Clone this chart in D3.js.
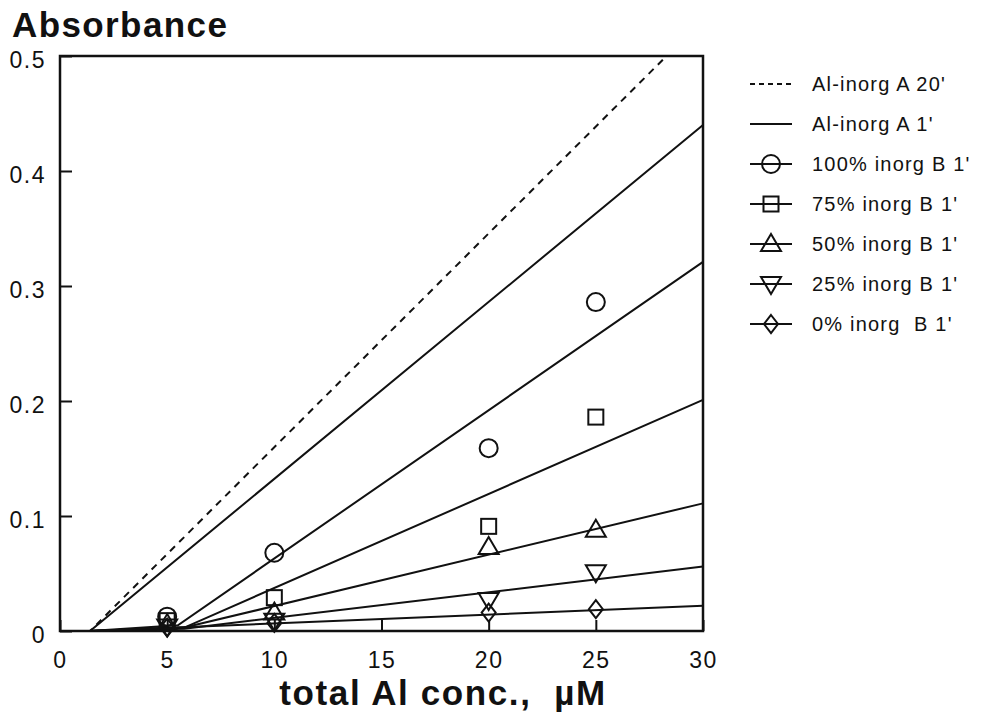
<!DOCTYPE html>
<html>
<head>
<meta charset="utf-8">
<script src="https://cdn.jsdelivr.net/npm/d3@7"></script>
<style>
  body { margin: 0; background: #fff; }
  text { font-family: "Liberation Sans", Arial, sans-serif; fill: #111; white-space: pre; }
</style>
</head>
<body>
<svg></svg>
<script>
const width = 984;
const height = 720;
const svg = d3.select("svg").attr("width", width).attr("height", height);

// data
const xTicks = [0, 5, 10, 15, 20, 25, 30];
const yTicks = [0, 0.1, 0.2, 0.3, 0.4, 0.5];
const concs = [5, 10, 20, 25];

const labels = ["Al-inorg A 20'", "Al-inorg A 1'", "100% inorg B 1'", "75% inorg B 1'",
  "50% inorg B 1'", "25% inorg B 1'", "0% inorg  B 1'"];
const symbols = ["dash", "line", "circle", "square", "triangle", "triangleDown", "diamond"];

const b100 = [0.0125, 0.068, 0.159, 0.286];
const b75 = [0.009, 0.029, 0.091, 0.186];
const b50 = [0.006, 0.016, 0.073, 0.088];
const b25 = [0.004, 0.009, 0.027, 0.051];
const b0 = [0.003, 0.007, 0.016, 0.019];

// fitted lines (x, absorbance)
const fitA20 = [[0, 0], [1.4, 0], [28.3, 0.5]];
const fitA1 = [[0, 0], [1.4, 0], [30, 0.44]];
const fit100 = [[1.4, 0], [5.5, 0.005], [30, 0.321]];
const fit75 = [[1.4, 0], [5.8, 0.003], [30, 0.201]];
const fit50 = [[1.4, 0], [5.8, 0.003], [30, 0.111]];
const fit25 = [[1.4, 0], [5.8, 0.002], [30, 0.056]];
const fit0 = [[1.4, 0], [30, 0.022]];

const x = d3.scaleLinear().domain([0, 30]).range([60, 703]);
const y = d3.scaleLinear().domain([0, 0.5]).range([631, 56]);

const line = d3.line().x(d => x(d[0])).y(d => y(d[1]));

// markers
function marker(g, type, cx, cy) {
  if (type === "circle") {
    g.append("circle").attr("cx", cx).attr("cy", cy).attr("r", 9);
  } else if (type === "square") {
    g.append("rect").attr("x", cx - 7.5).attr("y", cy - 7.5).attr("width", 15).attr("height", 15);
  } else if (type === "triangle") {
    g.append("path").attr("d", `M${cx},${cy - 10}L${cx + 10},${cy + 7}L${cx - 10},${cy + 7}Z`);
  } else if (type === "triangleDown") {
    g.append("path").attr("d", `M${cx},${cy + 10}L${cx + 10},${cy - 7}L${cx - 10},${cy - 7}Z`);
  } else if (type === "diamond") {
    g.append("path").attr("d", `M${cx},${cy - 9}L${cx + 7},${cy}L${cx},${cy + 9}L${cx - 7},${cy}Z`);
  }
}

// axes
const xAxis = d3.axisBottom(x).tickValues(xTicks).tickSizeInner(-11).tickSizeOuter(0).tickPadding(21);
const yAxis = d3.axisLeft(y).tickValues(yTicks).tickSizeInner(-12).tickSizeOuter(0).tickPadding(14)
  .tickFormat(d => d === 0 ? "0" : d.toFixed(1));

const gx = svg.append("g").attr("transform", `translate(0,${y(0)})`).call(xAxis);
const gy = svg.append("g").attr("transform", `translate(${x(0)},0)`).call(yAxis);
[gx, gy].forEach(g => {
  g.select(".domain").remove();
  g.selectAll("line").attr("stroke", "#111").attr("stroke-width", 2);
  g.selectAll("text").style("font-size", "23px").style("letter-spacing", "1.5px").attr("fill", "#111");
});
gy.selectAll("text").attr("dy", "0.5em");

// frame
svg.append("rect")
  .attr("x", x(0)).attr("y", y(0.5))
  .attr("width", x(30) - x(0)).attr("height", y(0) - y(0.5))
  .attr("fill", "none").attr("stroke", "#111").attr("stroke-width", 2.5);

// lines
const fits = [fitA20, fitA1, fit100, fit75, fit50, fit25, fit0];
svg.append("g").selectAll("path").data(fits).join("path")
  .attr("d", line)
  .attr("fill", "none")
  .attr("stroke", "#111")
  .attr("stroke-width", 2)
  .attr("stroke-dasharray", (d, i) => i === 0 ? "7,6" : null);

// points
const series = [b100, b75, b50, b25, b0];
const pts = svg.append("g").attr("fill", "none").attr("stroke", "#111").attr("stroke-width", 2);
series.forEach((s, i) => {
  s.forEach((v, j) => marker(pts, symbols[i + 2], x(concs[j]), y(v)));
});

// axis titles
svg.append("text").attr("x", 12).attr("y", 37)
  .style("font-size", "35px").style("font-weight", "bold").style("letter-spacing", "1.4px").text("Absorbance");
svg.append("text").attr("x", 443).attr("y", 705).attr("text-anchor", "middle")
  .style("font-size", "35px").style("font-weight", "bold").style("letter-spacing", "1.6px")
  .text("total Al conc.,  \u00b5M");

// legend
const legend = svg.append("g");
labels.forEach((lab, i) => {
  const ly = 84 + i * 40;
  const row = legend.append("g").attr("fill", "none").attr("stroke", "#111").attr("stroke-width", 2);
  row.append("line").attr("x1", 750).attr("x2", 792).attr("y1", ly).attr("y2", ly)
    .attr("stroke-dasharray", symbols[i] === "dash" ? "5,4" : null);
  marker(row, symbols[i], 771, ly);
  legend.append("text").attr("x", 812).attr("y", ly + 7)
    .style("font-size", "20px").style("letter-spacing", "1.2px").text(lab);
});
</script>
</body>
</html>
